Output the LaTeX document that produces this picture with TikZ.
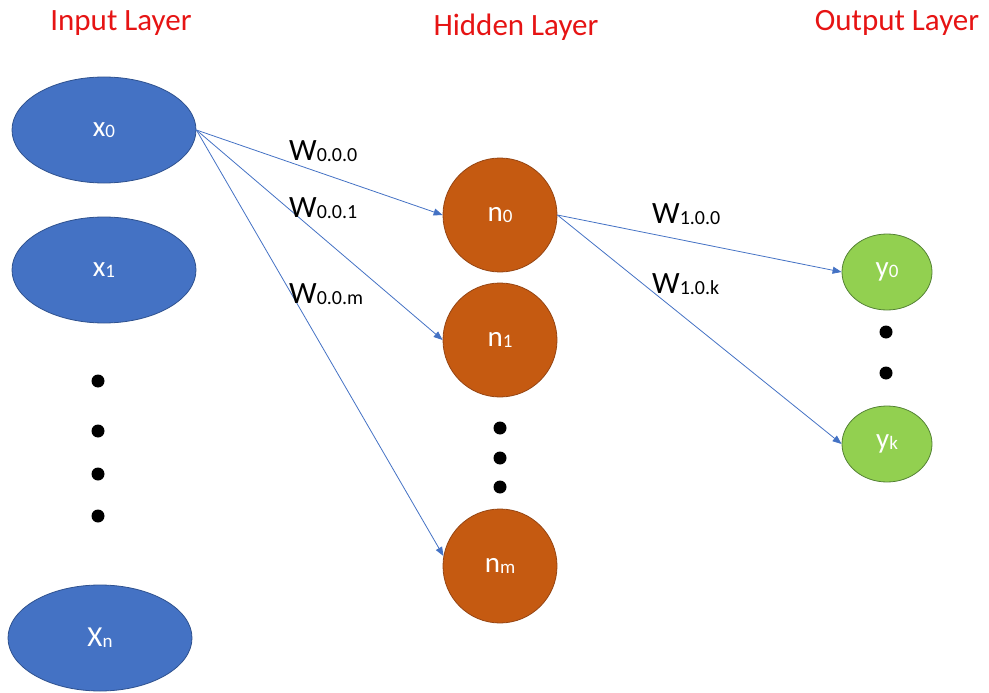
\documentclass[tikz,border=0pt]{standalone}
\usepackage{fontspec}
\setmainfont{Carlito}
\usetikzlibrary{shapes.geometric,arrows.meta}
\definecolor{inblue}{RGB}{68,114,196}
\definecolor{inedge}{RGB}{47,82,143}
\definecolor{hidorange}{RGB}{197,90,17}
\definecolor{hidedge}{RGB}{150,70,20}
\definecolor{outgreen}{RGB}{146,208,80}
\definecolor{outedge}{RGB}{84,130,53}
\definecolor{titlered}{RGB}{230,20,20}
\newcommand{\lbl}[2]{#1{\fontsize{19}{19}\selectfont\raisebox{-1pt}{#2}}}
\newcommand{\wlbl}[1]{W{\fontsize{20}{20}\selectfont\raisebox{-0.5pt}{#1}}}
\begin{document}
\begin{tikzpicture}[x=1pt,y=-1pt,
  inode/.style={ellipse,fill=inblue,draw=inedge,line width=0.8pt,minimum width=184pt,minimum height=106pt,text=white,font=\fontsize{29}{29}\selectfont,inner sep=0pt},
  hnode/.style={circle,fill=hidorange,draw=hidedge,line width=0.8pt,minimum size=114pt,text=white,font=\fontsize{29}{29}\selectfont,inner sep=0pt},
  onode/.style={ellipse,fill=outgreen,draw=outedge,line width=0.8pt,minimum width=90pt,minimum height=76pt,text=white,font=\fontsize{29}{29}\selectfont,inner sep=0pt},
  title/.style={text=titlered,font=\fontsize{31}{31}\selectfont},
  wl/.style={text=black,font=\fontsize{31}{31}\selectfont,inner sep=0pt},
  vdot/.style={circle,fill=black,minimum size=13pt,inner sep=0pt},
  link/.style={draw=inblue,line width=0.8pt,-{Triangle[length=9pt,width=7pt]}}
]
\useasboundingbox (0,0) rectangle (989,693);
\node[title] (tin) at (121,23) {Input Layer};
\node[title] (thid) at (516,27) {Hidden Layer};
\node[title] (tout) at (897,23) {Output Layer};

\node[inode] (x0) at (104,130) {\lbl{x}{0}};
\node[inode] (x1) at (104,270) {\lbl{x}{1}};
\node[inode] (xn) at (100,638) {\lbl{X}{n}};
\node[vdot] (d1) at (98,381) {};
\node[vdot] (d2) at (98,431) {};
\node[vdot] (d3) at (98,474) {};
\node[vdot] (d4) at (98,516) {};

\node[hnode] (n0) at (500,215) {\lbl{n}{0}};
\node[hnode] (n1) at (500,340) {\lbl{n}{1}};
\node[hnode] (nm) at (500,566) {\lbl{n}{m}};
\node[vdot] (h1) at (500,428) {};
\node[vdot] (h2) at (500,458) {};
\node[vdot] (h3) at (500,487) {};

\node[onode] (y0) at (887,272) {\lbl{y}{0}};
\node[onode] (yk) at (887,444) {\lbl{y}{k}};
\node[vdot] (o1) at (886,332) {};
\node[vdot] (o2) at (886,373) {};

\draw[link] (x0.east) -- (n0.west);
\draw[link] (x0.east) -- (n1.west);
\draw[link] (x0.east) -- (nm.170);
\draw[link] (n0.east) -- (y0.west);
\draw[link] (n0.east) -- (yk.west);

\node[wl,anchor=west] (w000) at (289,151) {\wlbl{0.0.0}};
\node[wl,anchor=west] (w001) at (289,208) {\wlbl{0.0.1}};
\node[wl,anchor=west] (w00m) at (289,294) {\wlbl{0.0.m}};
\node[wl,anchor=west] (w100) at (652,214) {\wlbl{1.0.0}};
\node[wl,anchor=west] (w10k) at (652,284) {\wlbl{1.0.k}};
\end{tikzpicture}
\end{document}
